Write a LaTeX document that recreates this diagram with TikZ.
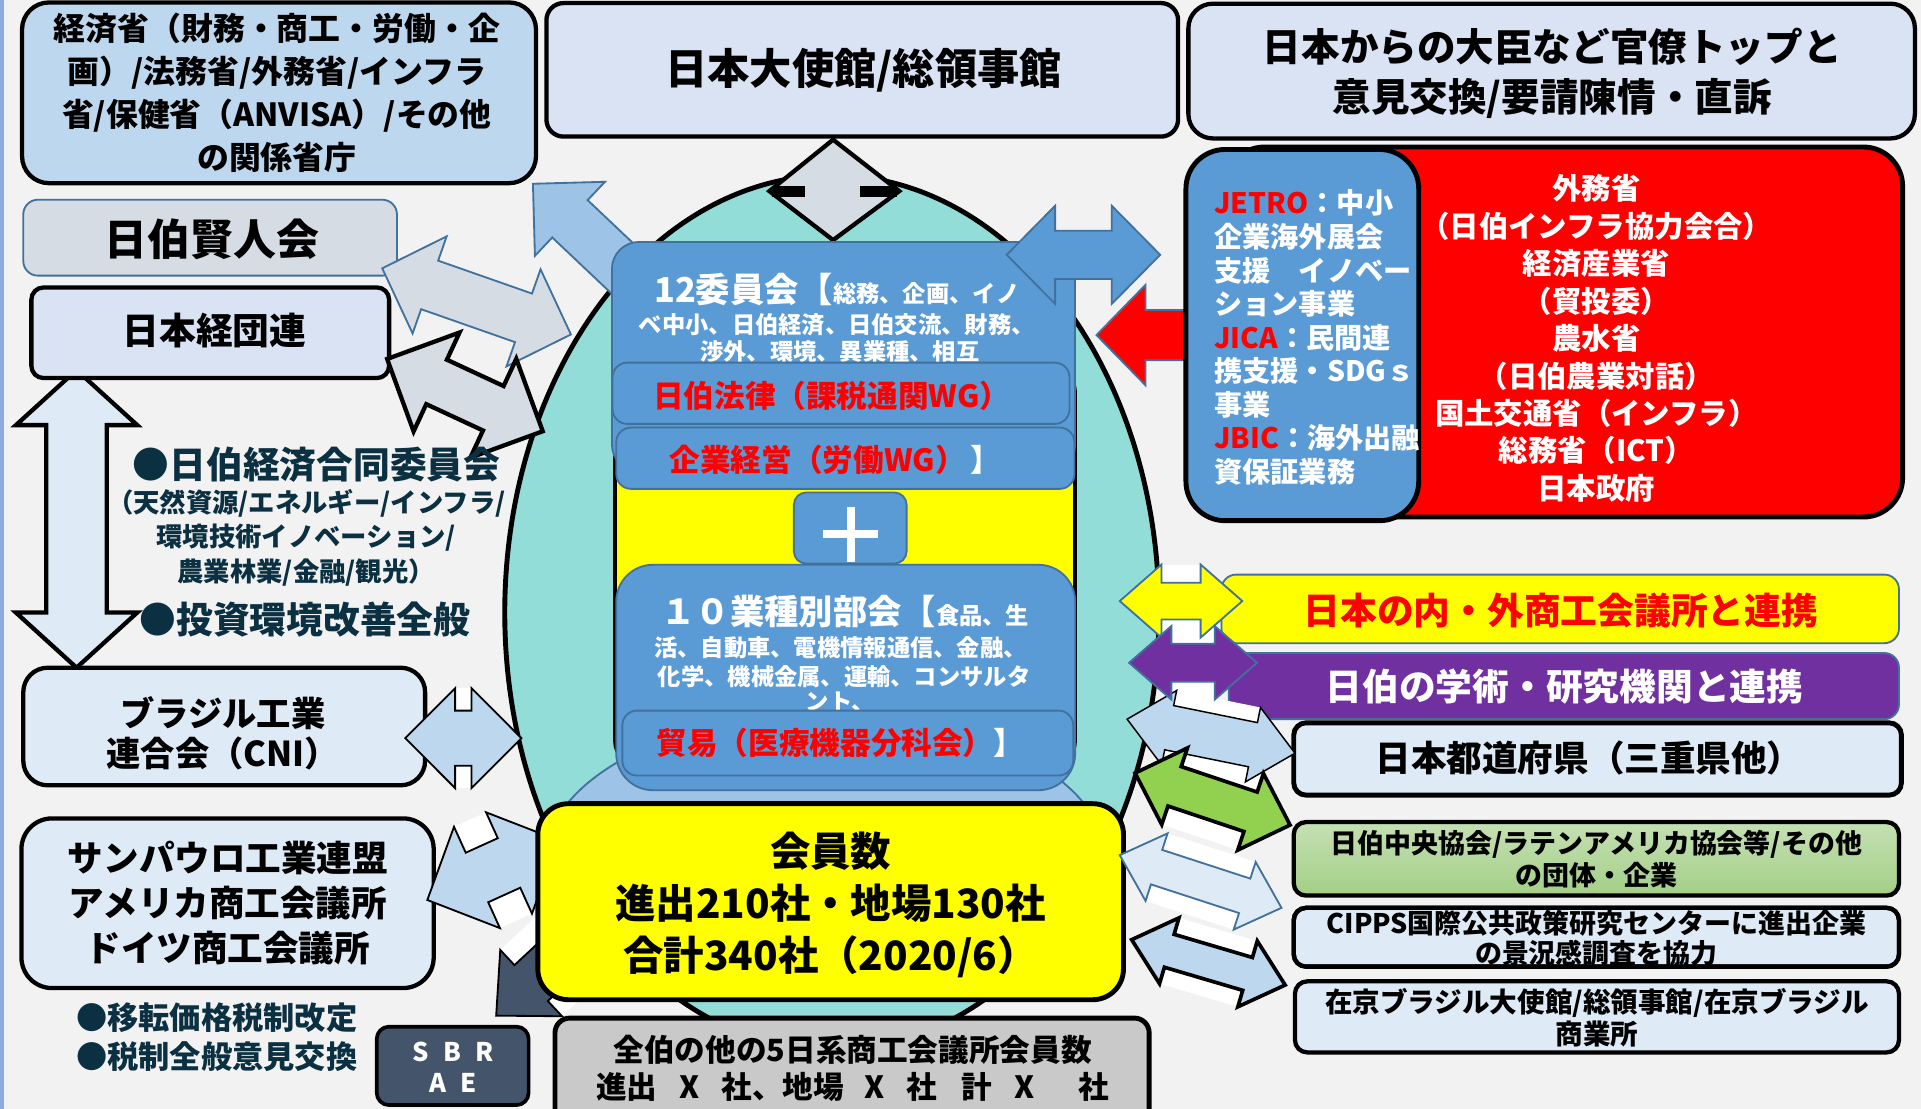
\documentclass[tikz,border=0pt]{standalone}
\usepackage{fontspec}
\setmainfont{Noto Sans CJK JP}
\usetikzlibrary{calc}
\definecolor{cBg}{HTML}{F2F2F2}
\definecolor{cStrip}{HTML}{8EA9DB}
\definecolor{cLb}{HTML}{BDD7EE}
\definecolor{cLav}{HTML}{DAE3F3}
\definecolor{cPale}{HTML}{DEEBF7}
\definecolor{cGr}{HTML}{D6DCE4}
\definecolor{cBord}{HTML}{41719C}
\definecolor{cMid}{HTML}{5B9BD5}
\definecolor{cSky}{HTML}{9DC3E6}
\definecolor{cTeal}{HTML}{93DDD8}
\definecolor{cDark}{HTML}{0B3041}
\definecolor{cSlate}{HTML}{44546A}
\definecolor{cPurp}{HTML}{7030A0}
\definecolor{cGrn}{HTML}{92D050}
\definecolor{cRed}{HTML}{FF0000}
\definecolor{cYel}{HTML}{FFFF00}
\definecolor{cGbox}{HTML}{C9C9C9}
\definecolor{cGrnTop}{HTML}{C5E0B4}
\definecolor{cGrnBot}{HTML}{A3CF86}
\newcommand\myfz[2]{\fontsize{#1}{#2}\selectfont\bfseries}
% double block arrow: style, A, B, shaft half, head half, head length
\newcommand\barrow[6]{%
 \coordinate (ha) at ($(#2)!#6!(#3)$);
 \coordinate (hb) at ($(#3)!#6!(#2)$);
 \path[#1] (#2) -- ($(ha)!#5!90:(#3)$) -- ($(ha)!#4!90:(#3)$) -- ($(hb)!#4!-90:(#2)$) -- ($(hb)!#5!-90:(#2)$) -- (#3) -- ($(hb)!#5!90:(#2)$) -- ($(hb)!#4!90:(#2)$) -- ($(ha)!#4!-90:(#3)$) -- ($(ha)!#5!-90:(#3)$) -- cycle;}
% white notch between heads: A, B, head half, head length
\newcommand\barnotch[4]{%
 \coordinate (ha) at ($(#1)!#4!(#2)$);
 \coordinate (hb) at ($(#2)!#4!(#1)$);
 \fill[white] ($(ha)!#3!90:(#2)$) -- ($(hb)!#3!-90:(#1)$) -- ($(hb)!#3!90:(#1)$) -- ($(ha)!#3!-90:(#2)$) -- cycle;}
\tikzset{
 bk/.style={draw=black, line width=3.5pt},
 bl/.style={draw=cBord, line width=1.5pt},
 bx/.style={inner sep=0pt, outer sep=0pt},
 tx/.style={inner sep=0pt, align=center},
}
\begin{document}
\begin{tikzpicture}[x=1pt,y=-1pt,line join=miter]
\useasboundingbox (0,0) rectangle (1568,905);
\clip (0,0) rectangle (1568,905);
\fill[cBg] (0,0) rectangle (1568,905);
\fill[cStrip] (0,0) rectangle (3,905);

% central ellipse and backing
\draw[bk, line width=4pt, fill=cTeal] (679,500) ellipse [x radius=267pt, y radius=357pt];
\draw[bk, line width=3pt, fill=cYel, rounded corners=20pt] (502,300) rectangle (877.5,625);
\begin{scope}
\clip (400,560) rectangle (950,700);
\draw[bl, fill=cSky] (674,705) ellipse [x radius=230pt, y radius=123pt];
\end{scope}

% diamond under embassy
\draw[bk, fill=cGr] (680,114) -- (734,156) -- (680,196) -- (628,156) -- cycle;
\fill (630,152) rectangle (657,161);
\fill (702,152) rectangle (732,161);

% left vertical arrow
\coordinate (va1) at (62.5,302); \coordinate (va2) at (62.5,545);
\barrow{bk, fill=cPale}{va1}{va2}{24.7pt}{49.5pt}{45pt}

% red arrow (under JETRO box)
\coordinate (ra) at (895,273.5);
\draw[bl, fill=cRed] (ra) -- (935,232.5) -- (935,253) -- (1000,253) -- (1000,294) -- (935,294) -- (935,314.5) -- cycle;

% top boxes
\node[bx, bk, fill=cLb, rounded corners=22pt, minimum width=419.5pt, minimum height=147.5pt] (minis) at (227.75,75.75) {};
\node[tx, font=\myfz{26}{35}] (minisT) at (226,75.5) {経済省（財務・商工・労働・企\\画）/法務省/外務省/インフラ\\省/保健省（ANVISA）/その他\\の関係省庁};
\node[bx, bk, fill=cLav, rounded corners=14pt, minimum width=515.6pt, minimum height=109pt] (emb) at (703.8,57) {};
\node[tx, font=\myfz{34.5}{40}] (embT) at (705,57) {日本大使館/総領事館};
\node[bx, bk, fill=cLav, rounded corners=20pt, minimum width=593pt, minimum height=110pt] (mini) at (1266.5,58) {};
\node[tx, font=\myfz{31.5}{40.5}] (miniT) at (1267,59.75) {日本からの大臣など官僚トップと\\意見交換/要請陳情・直訴};
\node[bx, bl, fill=cGr, rounded corners=12pt, minimum width=305pt, minimum height=62pt] (ken) at (171.5,194) {};
\node[tx, font=\myfz{35}{40}] (kenT) at (173,195) {日伯賢人会};
\node[bx, bk, fill=cLav, rounded corners=10pt, minimum width=292pt, minimum height=74pt] (kei) at (171.6,271.6) {};
\node[tx, font=\myfz{30}{36}] (keiT) at (175,270) {日本経団連};

% arrows on the upper left
\coordinate (tl1) at (435,150); \coordinate (tl2) at (566,274);
\barrow{bl, fill=cSky}{tl1}{tl2}{21pt}{41.6pt}{41.6pt}
\coordinate (ka1) at (312,219); \coordinate (ka2) at (466,273);
\barrow{bl, fill=cGr}{ka1}{ka2}{21pt}{42pt}{41pt}
\coordinate (kb1) at (316,293); \coordinate (kb2) at (443,352);
\barrow{bk, fill=cGr}{kb1}{kb2}{20pt}{44.5pt}{44.5pt}

% 12 committees block
\node[bx, bl, fill=cMid, rounded corners=22pt, minimum width=378pt, minimum height=187.5pt] (c12) at (688.5,291.25) {};
\node[tx, text=white, font=\myfz{19}{22}] (c12a) at (683,236) {{\fontsize{28}{30}\selectfont 12委員会【}総務、企画、イノ};
\node[tx, text=white, font=\myfz{19}{22}] (c12b) at (683,265) {ベ中小、日伯経済、日伯交流、財務、};
\node[tx, text=white, font=\myfz{19}{22}] (c12c) at (685.5,287) {渉外、環境、異業種、相互};
\node[bx, bl, fill=cMid, rounded corners=12pt, minimum width=373pt, minimum height=50pt] (wg1) at (686.5,321) {};
\node[tx, text=cRed, font=\myfz{25}{28}] (wg1T) at (679,323) {日伯法律（課税通関WG）};
\node[bx, bl, fill=cMid, rounded corners=12pt, minimum width=374pt, minimum height=50pt] (wg2) at (690,374) {};
\node[tx, text=cRed, font=\myfz{25}{28}] (wg2T) at (682,375.5) {企業経営（労働WG）\textcolor{white}{\,】}};
\node[bx, bl, fill=cMid, rounded corners=10pt, minimum width=92pt, minimum height=58pt] (plus) at (694,431) {};
\draw[white, line width=6pt] ($(plus.center)+(-22.5,5)$) -- ($(plus.center)+(22.5,5)$);
\draw[white, line width=6pt] ($(plus.center)+(0.5,-17.5)$) -- ($(plus.center)+(0.5,28)$);
\node[bx, bl, fill=cMid, rounded corners=30pt, minimum width=374.6pt, minimum height=184pt] (c10) at (690.3,553) {};
\node[tx, text=white, font=\myfz{19}{22}] (c10a) at (690,499.5) {{\fontsize{28}{30}\selectfont １０業種別部会【}食品、生};
\node[tx, text=white, font=\myfz{19}{22}] (c10b) at (686,529) {活、自動車、電機情報通信、金融、};
\node[tx, text=white, font=\myfz{19}{22}] (c10c) at (689,552.5) {化学、機械金属、運輸、コンサルタ};
\node[tx, text=white, font=\myfz{19}{22}] (c10d) at (686,573) {ント、};
\node[bx, bl, fill=cMid, rounded corners=12pt, minimum width=368pt, minimum height=53pt] (trade) at (692,606.5) {};
\node[tx, text=cRed, font=\myfz{25}{28}] (tradeT) at (686,606.7) {貿易（医療機器分科会）\textcolor{white}{】}};

% arrow committees <-> JETRO
\coordinate (ja1) at (821.7,208); \coordinate (ja2) at (947,208);
\barrow{bl, fill=cMid}{ja1}{ja2}{19.7pt}{40pt}{39.5pt}

% government boxes
\node[bx, bk, line width=4pt, fill=cRed, rounded corners=32pt, minimum width=553pt, minimum height=302pt] (govt) at (1276.5,271) {};
\node[bx, bk, line width=4pt, fill=cMid, rounded corners=32pt, minimum width=190pt, minimum height=303pt] (jetro) at (1063,273.5) {};
\node[tx, text=white, font=\myfz{24}{30.56}] (govtT) at (1303,276.25) {外務省\\（日伯インフラ協力会合）\\経済産業省\\（貿投委）\\農水省\\（日伯農業対話）\\国土交通省（インフラ）\\総務省（ICT）\\日本政府};
\node[tx, text=white, align=left, anchor=west, font=\myfz{23}{27.4}] (jetroT) at (991,275.5) {\textcolor{cRed}{JETRO}：中小\\企業海外展会\\支援　イノベー\\ション事業\\\textcolor{cRed}{JICA}：民間連\\携支援・SDGｓ\\事業\\\textcolor{cRed}{JBIC}：海外出融\\資保証業務};

% left lower boxes
\node[bx, bk, fill=cPale, rounded corners=20pt, minimum width=328pt, minimum height=96pt] (cni) at (183,593) {};
\node[tx, font=\myfz{28}{33}] (cniT) at (182,598.5) {ブラジル工業\\連合会（CNI）};
\node[bx, bk, fill=cPale, rounded corners=25pt, minimum width=336.5pt, minimum height=138.5pt] (sp) at (185.75,737.25) {};
\node[tx, font=\myfz{29}{37}] (spT) at (186,737) {サンパウロ工業連盟\\アメリカ商工会議所\\ドイツ商工会議所};
\node[bx, draw=black, line width=3pt, fill=cSlate, rounded corners=10pt, minimum width=124pt, minimum height=64pt] (sbrae) at (369.5,870) {};
\node[tx, text=white, font=\myfz{21}{25.5}] (sbraeT) at (370,871) {S\hspace{0.55em}B\hspace{0.55em}R\\A\hspace{0.55em}E};

% left texts
\node[tx, text=cDark, font=\myfz{30}{34}] (jb1) at (258.5,379.6) {●日伯経済合同委員会};
\node[tx, text=cDark, font=\myfz{21.5}{28}] (jb2) at (250,439) {（天然資源/エネルギー/インフラ/\\環境技術イノベーション/\\農業林業/金融/観光）};
\node[tx, text=cDark, font=\myfz{30}{34}] (jb3) at (249,506) {●投資環境改善全般};
\node[tx, text=cDark, font=\myfz{25.5}{31.5}] (tax) at (177,846.75) {●移転価格税制改定\\●税制全般意見交換};

% arrows to members box (notches first)
\coordinate (ca1) at (330.8,602.5); \coordinate (ca2) at (425.6,602.5);
\coordinate (sa1) at (348.8,734.6); \coordinate (sa2) at (456,686);
\coordinate (da1) at (405,829); \coordinate (da2) at (507,734);
\barnotch{ca1}{ca2}{40.8pt}{40.7pt}
\barnotch{sa1}{sa2}{45.4pt}{44.5pt}
\barnotch{da1}{da2}{37pt}{39pt}
\barrow{bl, draw=black, fill=cLb}{ca1}{ca2}{22.5pt}{40.8pt}{40.7pt}
\barrow{bl, draw=black, fill=cSlate}{da1}{da2}{20pt}{37pt}{39pt}
\barrow{bl, draw=black, fill=cLb}{sa1}{sa2}{22.2pt}{45.4pt}{44.5pt}

% members box and other chambers
\node[bx, bk, line width=4pt, fill=cYel, rounded corners=25pt, minimum width=478pt, minimum height=160pt] (mem) at (678,736) {};
\node[tx, font=\myfz{33}{42.5}] (memT) at (678,738.5) {会員数\\進出210社・地場130社\\合計340社（2020/6）};
\node[bx, bk, line width=4pt, fill=cGbox, rounded corners=12pt, minimum width=485pt, minimum height=110pt] (other) at (695.5,886) {};
\node[tx, font=\myfz{25}{28}] (otherA) at (696,857) {全伯の他の5日系商工会議所会員数};
\node[tx, font=\myfz{25}{28}] (otherB) at (696,887) {進出\hspace{0.72em}X\hspace{0.72em}社、地場\hspace{0.65em}X\hspace{0.72em}社\hspace{0.8em}計\hspace{0.72em}X\hspace{1.45em}社};

% right boxes
\node[bx, bl, fill=cYel, rounded corners=12pt, minimum width=553pt, minimum height=56pt] (naigai) at (1273.5,497) {};
\node[tx, text=cRed, font=\myfz{30}{34}] (naigaiT) at (1274,498) {日本の内・外商工会議所と連携};
\node[bx, bl, fill=cPurp, rounded corners=12pt, minimum width=547pt, minimum height=54pt] (gaku) at (1276.5,560) {};
\node[tx, text=white, font=\myfz{30}{34}] (gakuT) at (1277,560.5) {日伯の学術・研究機関と連携};
\node[bx, bk, line width=4pt, fill=cPale, rounded corners=10pt, minimum width=496pt, minimum height=59pt] (todo) at (1304,619.5) {};
\node[tx, font=\myfz{29}{34}] (todoT) at (1297,619) {日本都道府県（三重県他）};
\node[bx, bk, top color=cGrnTop, bottom color=cGrnBot, rounded corners=10pt, minimum width=494pt, minimum height=60pt] (chuo) at (1303,701) {};
\node[tx, font=\myfz{22}{26}] (chuoT) at (1303,701) {日伯中央協会/ラテンアメリカ協会等/その他\\の団体・企業};
\node[bx, bk, fill=cPale, rounded corners=10pt, minimum width=494pt, minimum height=48pt] (cipps) at (1303,765) {};
\node[tx, font=\myfz{22}{24.4}] (cippsT) at (1303,765.8) {CIPPS国際公共政策研究センターに進出企業\\の景況感調査を協力};
\node[bx, bk, rounded corners=10pt, minimum width=494pt, minimum height=48pt] (cippsB) at (1303,765) {};
\node[bx, bk, fill=cPale, rounded corners=10pt, minimum width=493pt, minimum height=58pt] (zai) at (1303.5,830) {};
\node[tx, font=\myfz{22.5}{25.5}] (zaiT) at (1303.5,830.75) {在京ブラジル大使館/総領事館/在京ブラジル\\商業所};

% right arrows
\coordinate (ya1) at (914,490.6); \coordinate (ya2) at (1014,490.6);
\coordinate (pa1) at (921.6,541); \coordinate (pa2) at (1026,541);
\coordinate (ta1) at (920,587); \coordinate (ta2) at (1057,614.8);
\coordinate (ga1) at (926.5,631); \coordinate (ga2) at (1053,673.4);
\coordinate (ia1) at (914,698); \coordinate (ia2) at (1046,741);
\coordinate (za1) at (923.7,767); \coordinate (za2) at (1049,804);
\barnotch{ya1}{ya2}{29.8pt}{34pt}
\barnotch{pa1}{pa2}{30pt}{34.5pt}
\barnotch{ta1}{ta2}{31pt}{35pt}
\barnotch{ga1}{ga2}{33pt}{34pt}
\barnotch{ia1}{ia2}{29pt}{31.6pt}
\barnotch{za1}{za2}{28pt}{32pt}
\barrow{bl, draw=black, line width=1.2pt, fill=cLb}{ta1}{ta2}{18.4pt}{31pt}{35pt}
\barrow{bl, fill=cYel}{ya1}{ya2}{15pt}{29.8pt}{34pt}
\barrow{bl, fill=cPurp}{pa1}{pa2}{15.5pt}{30pt}{34.5pt}
\barrow{bk, line width=3pt, fill=cGrn}{ga1}{ga2}{17pt}{33pt}{34pt}
\barrow{bl, fill=cPale}{ia1}{ia2}{14.8pt}{29pt}{31.6pt}
\barrow{bk, line width=3pt, fill=cLb}{za1}{za2}{14pt}{28pt}{32pt}
\end{tikzpicture}
\end{document}
